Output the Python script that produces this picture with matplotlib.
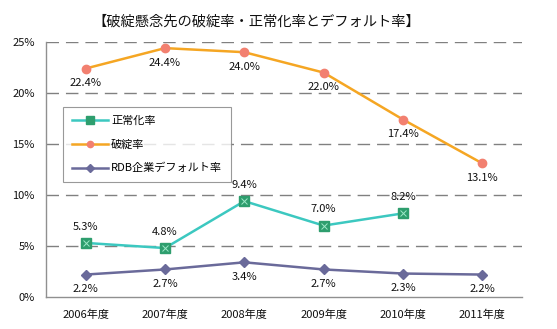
import matplotlib
matplotlib.use("Agg")
import matplotlib.pyplot as plt
from matplotlib.ticker import FuncFormatter

plt.rcParams['font.family'] = ['Noto Sans CJK JP', 'DejaVu Sans']

years = ["2006年度", "2007年度", "2008年度", "2009年度", "2010年度", "2011年度"]
normalized = [5.3, 4.8, 9.4, 7.0, 8.2]          # 正常化率
bankrupt = [22.4, 24.4, 24.0, 22.0, 17.4, 13.1]  # 破綻率
rdb_default = [2.2, 2.7, 3.4, 2.7, 2.3, 2.2]     # RDB企業デフォルト率
yticks = [0, 5, 10, 15, 20, 25]

fig = plt.figure(figsize=(5.57, 3.29), dpi=100)
ax = fig.add_axes([46/557, 1 - 297/329, 476/557, 255/329])

x_all = list(range(len(years)))
x_norm = x_all[:len(normalized)]

ax.plot(x_norm, normalized, color="#3CC8C0", lw=1.8, marker="s", ms=7.5,
        mfc="#2E9E6E", mec="#2E9E6E", label="正常化率", zorder=4)
ax.plot(x_norm, normalized, ls="none", marker="x", ms=5, mec="#9EE8C8",
        mew=0.7, zorder=5)
ax.plot(x_all, bankrupt, color="#F5A623", lw=1.8, marker="o", ms=6,
        mfc="#F28070", mec="#F28070", label="破綻率", zorder=4)
ax.plot(x_all, rdb_default, color="#6A6A9A", lw=1.8, marker="D", ms=5,
        mfc="#6A6A9A", mec="#6A6A9A", label="RDB企業デフォルト率", zorder=4)

fs = 8
for xi, v in zip(x_norm, normalized):
    ax.annotate(f"{v:.1f}%", (xi, v), xytext=(0, 8), textcoords="offset points",
                ha="center", va="bottom", fontsize=fs, color="#111111")
for xi, v in zip(x_all, bankrupt):
    ax.annotate(f"{v:.1f}%", (xi, v), xytext=(0, -7), textcoords="offset points",
                ha="center", va="top", fontsize=fs, color="#111111")
for xi, v in zip(x_all, rdb_default):
    ax.annotate(f"{v:.1f}%", (xi, v), xytext=(0, -7), textcoords="offset points",
                ha="center", va="top", fontsize=fs, color="#111111")

ax.set_xlim(-0.5, len(years) - 0.5)
ax.set_ylim(0, 25)
ax.set_yticks(yticks)
ax.yaxis.set_major_formatter(FuncFormatter(lambda v, p: f"{v:.0f}%"))
ax.set_xticks(x_all)
ax.set_xticklabels(years)
ax.tick_params(length=0, labelsize=fs, pad=9, colors="#111111")
ax.tick_params(axis="y", pad=8)

for yv in yticks[1:]:
    ax.axhline(yv, color="#808080", lw=1, dashes=(9, 5), zorder=1)

for s in ("top", "right"):
    ax.spines[s].set_visible(False)
for s in ("left", "bottom"):
    ax.spines[s].set_color("#909090")
    ax.spines[s].set_linewidth(1)

leg = ax.legend(loc="upper left", bbox_to_anchor=(0.036, 0.745), fontsize=fs,
                frameon=True, fancybox=False, edgecolor="#808080",
                handlelength=3.2, labelspacing=1.2, borderpad=0.8,
                handletextpad=0.3, borderaxespad=0, markerscale=0.75)
leg.get_frame().set_linewidth(0.8)

fig.text(256/557, 1 - 22/329, "【破綻懸念先の破綻率・正常化率とデフォルト率】",
         ha="center", va="center", fontsize=10.3, color="#111111")

fig.savefig("out.png", dpi=100, facecolor="white")
